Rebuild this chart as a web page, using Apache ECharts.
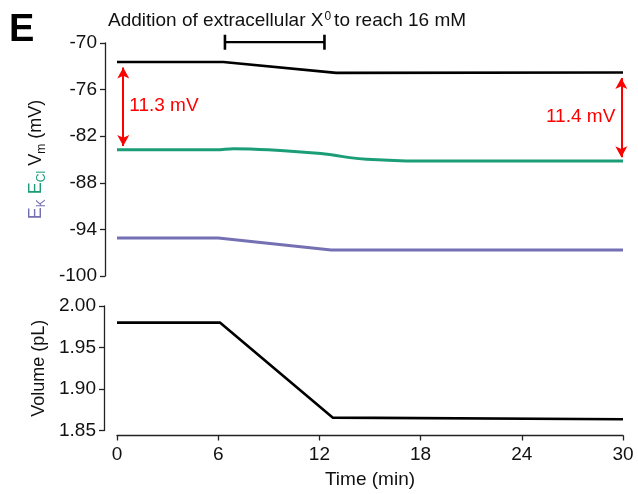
<!DOCTYPE html>
<html>
<head>
<meta charset="utf-8">
<script src="https://cdn.jsdelivr.net/npm/echarts@6/dist/echarts.min.js"></script>
<style>
  html, body { margin: 0; padding: 0; background: #fff; }
  #chart { width: 638px; height: 494px; }
</style>
</head>
<body>
<div id="chart"></div>
<script>
// Membrane potential, reversal potentials and cell volume over time
const vmTime = [0, 6.3, 13.0, 30];
const vmValues = [-72.45, -72.45, -73.85, -73.8];

const eclTime = [0, 5.9, 6.9, 7.9, 9.9, 11.9, 12.9, 13.8, 14.8, 16.8, 18.8, 30];
const eclValues = [-83.75, -83.75, -83.6, -83.64, -83.86, -84.2, -84.46, -84.76, -84.97, -85.15, -85.19, -85.2];

const ekTime = [0, 6.0, 12.7, 30];
const ekValues = [-95.1, -95.1, -96.65, -96.65];

const volTime = [0, 6.1, 12.8, 30];
const volValues = [1.98, 1.98, 1.8655, 1.8635];

// Period of X0 addition (min)
const additionPeriod = [6.4, 12.3];

const timeTicks = [0, 6, 12, 18, 24, 30];
const potentialTicks = [-100, -94, -88, -82, -76, -70];
const volumeTicks = [1.85, 1.90, 1.95, 2.00];

// Times at which the Vm - ECl gap is marked
const gapTimes = [0.37, 29.9];

const FONT = '"Liberation Sans", Arial, sans-serif';
const RED = '#ff0000';
const GREEN = '#1b9e77';
const PURPLE = '#7570b3';

const pair = (t, v) => t.map((x, i) => [x, v[i]]);

function interp(t, v, x) {
  for (let i = 1; i < t.length; i++) {
    if (x <= t[i]) {
      const f = (x - t[i - 1]) / (t[i] - t[i - 1]);
      return v[i - 1] + f * (v[i] - v[i - 1]);
    }
  }
  return v[v.length - 1];
}

const gaps = gapTimes.map(t => {
  const top = interp(vmTime, vmValues, t);
  const bottom = interp(eclTime, eclValues, t);
  return { t, top, bottom, diff: top - bottom };
});

const axisLineStyle = { color: '#222', width: 1.3 };
const tickLabel = { color: '#111', fontSize: 19, fontFamily: FONT };

const chart = echarts.init(document.getElementById('chart'), null, { renderer: 'canvas' });

chart.setOption({
  animation: false,
  backgroundColor: '#fff',
  grid: [
    { left: 117, right: 15, top: 43, height: 233, containLabel: false },
    { left: 117, right: 15, top: 306, height: 124.5, containLabel: false }
  ],
  xAxis: [
    { gridIndex: 0, type: 'value', min: timeTicks[0], max: timeTicks[timeTicks.length - 1], interval: 6, show: false },
    {
      gridIndex: 1, type: 'value', min: timeTicks[0], max: timeTicks[timeTicks.length - 1], interval: 6,
      offset: 5,
      axisLine: { show: true, onZero: false, lineStyle: axisLineStyle },
      axisTick: { show: true, length: 5, lineStyle: axisLineStyle },
      axisLabel: { ...tickLabel, margin: 10 },
      splitLine: { show: false },
      name: 'Time (min)', nameLocation: 'middle', nameGap: 35,
      nameTextStyle: { color: '#111', fontSize: 19, fontFamily: FONT }
    }
  ],
  yAxis: [
    {
      gridIndex: 0, type: 'value', min: potentialTicks[0], max: potentialTicks[potentialTicks.length - 1], interval: 6,
      offset: 12,
      axisLine: { show: true, onZero: false, lineStyle: axisLineStyle },
      axisTick: { show: true, length: 5, lineStyle: axisLineStyle },
      axisLabel: { ...tickLabel, margin: 8 },
      splitLine: { show: false },
      name: '{k|E}{ksub|K}{gap| }{c|E}{csub|Cl}{gap| }{v|V}{vsub|m}{v| (mV)}',
      nameLocation: 'middle', nameRotate: 90, nameGap: 44,
      nameTextStyle: {
        fontFamily: FONT,
        rich: {
          k: { color: PURPLE, fontSize: 18, fontFamily: FONT, verticalAlign: 'top', lineHeight: 18 },
          ksub: { color: PURPLE, fontSize: 12, fontFamily: FONT, verticalAlign: 'top', padding: [9, 0, 0, 0] },
          c: { color: GREEN, fontSize: 18, fontFamily: FONT, verticalAlign: 'top', lineHeight: 18 },
          csub: { color: GREEN, fontSize: 12, fontFamily: FONT, verticalAlign: 'top', padding: [9, 0, 0, 0] },
          v: { color: '#111', fontSize: 18, fontFamily: FONT, verticalAlign: 'top', lineHeight: 18 },
          vsub: { color: '#111', fontSize: 12, fontFamily: FONT, verticalAlign: 'top', padding: [9, 0, 0, 0] },
          gap: { fontSize: 18, fontFamily: FONT, verticalAlign: 'top', lineHeight: 18 }
        }
      }
    },
    {
      gridIndex: 1, type: 'value', min: volumeTicks[0], max: volumeTicks[volumeTicks.length - 1], interval: 0.05,
      offset: 13,
      axisLine: { show: true, onZero: false, lineStyle: axisLineStyle },
      axisTick: { show: true, length: 5, lineStyle: axisLineStyle },
      axisLabel: { ...tickLabel, margin: 8, formatter: v => v.toFixed(2) },
      splitLine: { show: false },
      name: 'Volume (pL)', nameLocation: 'middle', nameRotate: 90, nameGap: 46,
      nameTextStyle: { color: '#111', fontSize: 18, fontFamily: FONT }
    }
  ],
  graphic: [
    {
      type: 'text', left: 9, top: 12,
      style: { text: 'E', fill: '#000', font: `bold 38px ${FONT}` }
    },
    {
      type: 'text', left: 108, top: 11,
      style: {
        text: '{n|Addition of extracellular X}{s|0}{t|to reach 16 mM}',
        rich: {
          n: { fill: '#111', fontSize: 19, fontFamily: FONT, verticalAlign: 'top', lineHeight: 21 },
          s: { fill: '#111', fontSize: 12, fontFamily: FONT, verticalAlign: 'top', padding: [0, 0, 0, 1] },
          t: { fill: '#111', fontSize: 19, fontFamily: FONT, verticalAlign: 'top', lineHeight: 21, padding: [0, 0, 0, 3] }
        }
      }
    }
  ],
  series: [
    {
      name: 'Vm', type: 'line', xAxisIndex: 0, yAxisIndex: 0,
      data: pair(vmTime, vmValues), showSymbol: false, symbol: 'none',
      lineStyle: { color: '#000', width: 2.6 }, z: 3
    },
    {
      name: 'ECl', type: 'line', xAxisIndex: 0, yAxisIndex: 0,
      data: pair(eclTime, eclValues), showSymbol: false, symbol: 'none', smooth: 0.35,
      lineStyle: { color: GREEN, width: 3 }, z: 3,
      markLine: {
        silent: true, symbol: ['arrow', 'arrow'], symbolSize: [9, 11],
        lineStyle: { color: RED, width: 2, type: 'solid' },
        label: { show: false },
        data: gaps.map(g => [
          { coord: [g.t, g.top - 0.7] },
          { coord: [g.t, g.bottom + 0.5] }
        ])
      },
      markPoint: {
        silent: true, symbol: 'circle', symbolSize: 0,
        data: gaps.map((g, i) => ({
          coord: [g.t, (g.top + g.bottom) / 2],
          label: {
            show: true, position: i === 0 ? 'right' : 'left', distance: 6,
            formatter: g.diff.toFixed(1) + ' mV',
            color: RED, fontSize: 19, fontFamily: FONT
          }
        }))
      }
    },
    {
      name: 'EK', type: 'line', xAxisIndex: 0, yAxisIndex: 0,
      data: pair(ekTime, ekValues), showSymbol: false, symbol: 'none',
      lineStyle: { color: PURPLE, width: 3 }, z: 3
    },
    {
      name: 'Addition', type: 'line', xAxisIndex: 0, yAxisIndex: 0,
      data: additionPeriod.map(t => [t, -69.9]), clip: false,
      symbol: 'rect', symbolSize: [2.6, 15], showSymbol: true,
      itemStyle: { color: '#000' },
      lineStyle: { color: '#000', width: 2.2 }, z: 4
    },
    {
      name: 'Volume', type: 'line', xAxisIndex: 1, yAxisIndex: 1,
      data: pair(volTime, volValues), showSymbol: false, symbol: 'none',
      lineStyle: { color: '#000', width: 2.6 }, z: 3
    }
  ]
});
</script>
</body>
</html>
